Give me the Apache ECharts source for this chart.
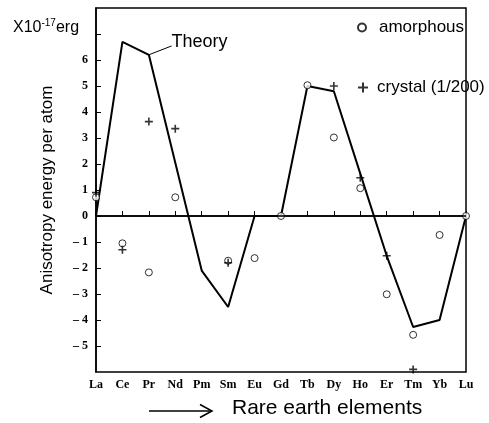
<!DOCTYPE html>
<html>
<head>
<meta charset="utf-8">
<script src="https://cdn.jsdelivr.net/npm/echarts@6/dist/echarts.min.js"></script>
<style>html,body{margin:0;padding:0;background:#fff;}#c{width:489px;height:423px;}</style>
</head>
<body>
<div id="c"></div>
<script>
var categories = ['La','Ce','Pr','Nd','Pm','Sm','Eu','Gd','Tb','Dy','Ho','Er','Tm','Yb','Lu'];
var theory = [0, 6.7, 6.2, 2.05, -2.1, -3.5, 0, 0, 5.0, 4.8, 1.63, -1.53, -4.27, -4.0, 0];
var amorphous = [0.72, -1.05, -2.17, 0.72, null, -1.72, -1.62, 0, 5.03, 3.02, 1.07, -3.01, -4.57, -0.73, 0];
var crystal = [0.9, -1.3, 3.63, 3.36, null, -1.8, null, null, null, 5.0, 1.47, -1.53, -5.9, null, null];
var yTickLabels = [-5, -4, -3, -2, -1, 0, 1, 2, 3, 4, 5, 6];

function pairs(arr) {
  var out = [];
  arr.forEach(function (v, i) { if (v !== null) out.push([i, v]); });
  return out;
}
var plusPath = 'path://M4,0H6V4H10V6H6V10H4V6H0V4H4Z';
var serif = 'Liberation Serif';
var sans = 'Liberation Sans';

var chart = echarts.init(document.getElementById('c'), null, {renderer: 'canvas'});
chart.setOption({
  animation: false,
  backgroundColor: '#fff',
  title: {
    left: 8, top: 13,
    text: '{a|X10}{s|-17}{a|erg}',
    textStyle: {
      fontWeight: 'normal',
      rich: {
        a: {fontFamily: sans, fontSize: 16, fontWeight: 'normal', color: '#000'},
        s: {fontFamily: sans, fontSize: 10, fontWeight: 'normal', color: '#000', padding: [0, 0, 9, 0]}
      }
    }
  },
  legend: [
    {
      left: 357, top: 19, padding: 0, orient: 'vertical', itemWidth: 8, itemHeight: 8,
      textStyle: {fontFamily: sans, fontSize: 17, color: '#000', padding: [0, 0, 0, 8]},
      data: [{name: 'amorphous', icon: 'circle', itemStyle: {color: '#fff', borderColor: '#000', borderWidth: 2}}]
    },
    {
      left: 358, top: 79, padding: 0, orient: 'vertical', itemWidth: 10, itemHeight: 10,
      textStyle: {fontFamily: sans, fontSize: 17, color: '#000', padding: [0, 0, 0, 4]},
      data: [{name: 'crystal (1/200)', icon: plusPath}]
    }
  ],
  grid: {left: 96, top: 8, right: 23, bottom: 51, show: true, borderColor: '#000', borderWidth: 1.5, backgroundColor: 'transparent'},
  xAxis: {
    type: 'value', min: 0, max: 14, interval: 1,
    axisLine: {show: true, lineStyle: {color: '#000', width: 1.5}},
    axisTick: {show: true, inside: true, length: 5, lineStyle: {color: '#000'}},
    splitLine: {show: false},
    axisLabel: {
      fontFamily: serif, fontWeight: 'bold', fontSize: 12, color: '#000', margin: 7,
      formatter: function (v) { return categories[Math.round(v)] || ''; }
    }
  },
  yAxis: {
    type: 'value', min: -6, max: 8, interval: 1,
    name: 'Anisotropy energy per atom', nameLocation: 'middle', nameGap: 40,
    nameTextStyle: {fontFamily: sans, fontSize: 17, color: '#000'},
    axisLine: {show: true, lineStyle: {color: '#000', width: 1.5}},
    axisTick: {show: true, inside: true, length: 5, lineStyle: {color: '#000'}},
    splitLine: {show: false},
    axisLabel: {
      fontFamily: serif, fontWeight: 'bold', fontSize: 12, color: '#000', margin: 8,
      showMinLabel: false, showMaxLabel: false,
      formatter: function (v) {
        if (yTickLabels.indexOf(v) < 0) return '';
        return v < 0 ? '\u2013 ' + Math.abs(v) : String(v);
      }
    }
  },
  series: [
    {
      name: 'theory', type: 'line', data: pairs(theory), symbol: 'none',
      lineStyle: {color: '#000', width: 2}, z: 2,
      markLine: {
        silent: true, symbol: 'none', label: {show: false},
        lineStyle: {color: '#000', width: 1.5, type: 'solid'},
        data: [
          {yAxis: 0},
          [{coord: [2, 6.2], lineStyle: {width: 1}}, {coord: [2.86, 6.54]}]
        ]
      },
      markPoint: {
        symbol: 'circle', symbolSize: 0,
        label: {show: true, position: 'right', distance: 0, formatter: 'Theory', fontFamily: sans, fontSize: 18, color: '#000'},
        data: [{coord: [2.86, 6.7]}]
      }
    },
    {
      name: 'amorphous', type: 'scatter', data: pairs(amorphous), symbol: 'circle', symbolSize: 7,
      itemStyle: {color: '#fff', borderColor: '#000', borderWidth: 1}, z: 4
    },
    {
      name: 'crystal (1/200)', type: 'scatter', data: pairs(crystal), symbol: plusPath, symbolSize: 8,
      itemStyle: {color: '#000'}, z: 5
    }
  ],
  graphic: [
    {type: 'line', shape: {x1: 149, y1: 411, x2: 211, y2: 411}, style: {stroke: '#000', lineWidth: 1.5}},
    {type: 'polyline', shape: {points: [[200, 404.5], [212, 411], [200, 417.5]]}, style: {stroke: '#000', lineWidth: 1.5, fill: null}},
    {type: 'text', left: 232, top: 398, style: {text: 'Rare earth elements', font: '21px "Liberation Sans"', fill: '#000'}}
  ]
});
</script>
</body>
</html>
